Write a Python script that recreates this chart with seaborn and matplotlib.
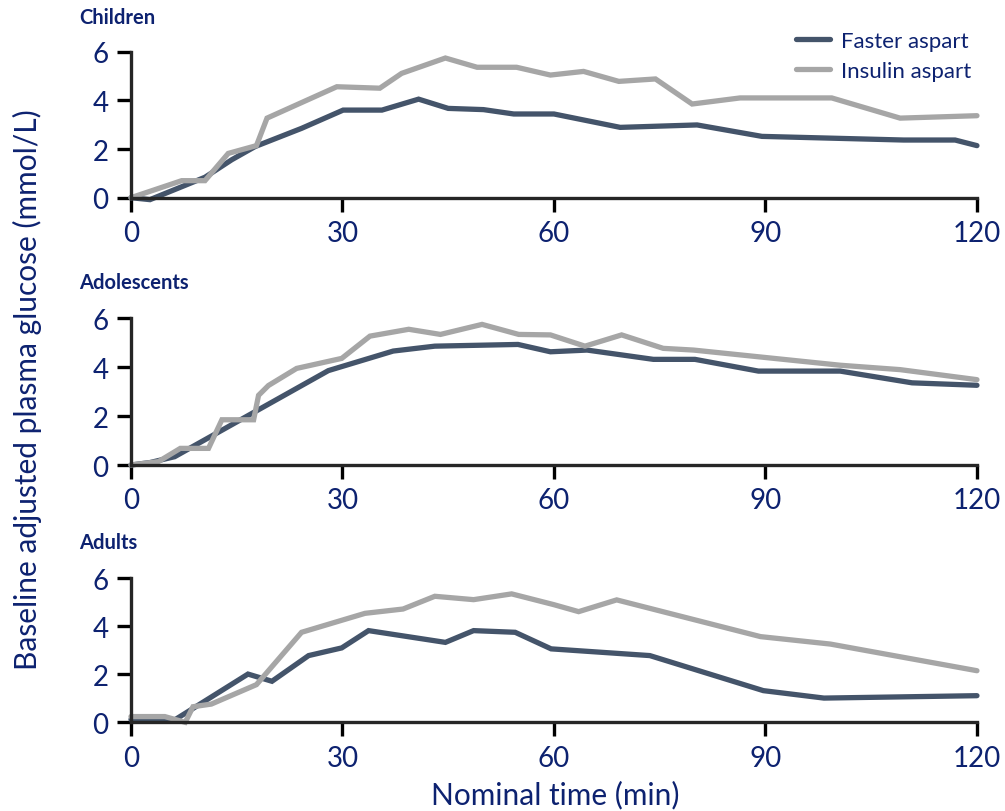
import pandas as pd
import seaborn as sns
import matplotlib.pyplot as plt

# Valores (min, mmol/L)
children_faster_t = [0, 2.7, 10.5, 14.3, 17.6, 24.2, 30.1, 35.6, 40.8, 45.0, 50.0, 54.3, 60.0, 69.4, 80.3, 89.5, 109.6, 116.9, 120]
children_faster_y = [0, -0.08, 0.84, 1.56, 2.1, 2.85, 3.6, 3.6, 4.05, 3.67, 3.62, 3.44, 3.44, 2.89, 2.99, 2.52, 2.37, 2.37, 2.14]
children_insulin_t = [0, 7.2, 10.5, 13.8, 17.8, 19.3, 29.2, 35.3, 38.4, 44.6, 49.1, 54.7, 59.5, 64.2, 69.2, 74.4, 79.6, 86.4, 99.4, 109.1, 120]
children_insulin_y = [0, 0.7, 0.7, 1.82, 2.14, 3.27, 4.56, 4.5, 5.11, 5.74, 5.36, 5.36, 5.04, 5.19, 4.78, 4.88, 3.85, 4.1, 4.1, 3.27, 3.37]

adolescents_faster_t = [0, 2.7, 6.2, 28.0, 37.2, 43.1, 54.9, 59.5, 64.7, 74.1, 80.0, 89.0, 100.6, 110.8, 120]
adolescents_faster_y = [0, 0.1, 0.34, 3.86, 4.66, 4.86, 4.93, 4.63, 4.7, 4.32, 4.32, 3.84, 3.84, 3.36, 3.26]
adolescents_insulin_t = [0, 3.9, 7.0, 11.0, 12.9, 17.4, 18.1, 19.5, 23.5, 29.9, 33.9, 39.4, 43.9, 49.8, 55.0, 59.5, 64.4, 69.6, 75.5, 79.8, 100.6, 109.1, 120]
adolescents_insulin_y = [0, 0.14, 0.68, 0.68, 1.85, 1.85, 2.85, 3.25, 3.95, 4.36, 5.27, 5.55, 5.34, 5.75, 5.34, 5.32, 4.86, 5.32, 4.77, 4.7, 4.08, 3.9, 3.49]

adults_faster_t = [0, 6.2, 16.6, 20.0, 25.2, 29.9, 33.7, 44.6, 48.6, 54.5, 59.6, 73.6, 89.7, 98.3, 120]
adults_faster_y = [0.12, 0.1, 2.01, 1.71, 2.78, 3.1, 3.82, 3.33, 3.82, 3.75, 3.06, 2.78, 1.32, 1.01, 1.11]
adults_insulin_t = [0, 4.8, 7.7, 8.8, 11.4, 17.8, 24.2, 33.2, 38.6, 43.1, 48.6, 54.0, 60.0, 63.5, 68.9, 89.3, 99.2, 120]
adults_insulin_y = [0.24, 0.24, 0.0, 0.65, 0.76, 1.57, 3.75, 4.54, 4.72, 5.25, 5.11, 5.35, 4.9, 4.61, 5.10, 3.57, 3.26, 2.15]

grupos = ['Children', 'Adolescents', 'Adults']
tratamientos = ['Faster aspart', 'Insulin aspart']
x_ticks = [0, 30, 60, 90, 120]
y_ticks = [0, 2, 4, 6]

series = {
    'Children': [(children_faster_t, children_faster_y), (children_insulin_t, children_insulin_y)],
    'Adolescents': [(adolescents_faster_t, adolescents_faster_y), (adolescents_insulin_t, adolescents_insulin_y)],
    'Adults': [(adults_faster_t, adults_faster_y), (adults_insulin_t, adults_insulin_y)],
}

filas = []
for g in grupos:
    for trat, (t, y) in zip(tratamientos, series[g]):
        for ti, yi in zip(t, y):
            filas.append({'grupo': g, 'tratamiento': trat, 'tiempo': ti, 'glucosa': yi})
df = pd.DataFrame(filas)

navy = '#0d2270'
paleta = {'Faster aspart': '#44546a', 'Insulin aspart': '#a6a6a6'}

sns.set_style('ticks')
plt.rcParams['font.family'] = ['Lato', 'DejaVu Sans']

fig = plt.figure(figsize=(10.05, 8.12), dpi=100)

# posiciones [izq, abajo, ancho, alto] en fracción de figura
posiciones = {
    'Children': [0.1303, 0.7553, 0.8418, 0.1798],
    'Adolescents': [0.1303, 0.4261, 0.8418, 0.1807],
    'Adults': [0.1303, 0.1092, 0.8418, 0.1774],
}
titulos_y = {'Children': 0.978, 'Adolescents': 0.651, 'Adults': 0.331}

for g in grupos:
    ax = fig.add_axes(posiciones[g])
    sns.lineplot(
        data=df[df['grupo'] == g],
        x='tiempo', y='glucosa',
        hue='tratamiento', hue_order=tratamientos,
        palette=paleta, estimator=None, sort=False,
        linewidth=3.8, legend=(g == 'Children'),
        ax=ax,
    )
    for ln in ax.lines:
        ln.set_clip_on(False)
        ln.set_solid_joinstyle('miter')
    ax.set_xlim(0, 120)
    ax.set_ylim(0, 6)
    ax.set_xticks(x_ticks)
    ax.set_yticks(y_ticks)
    ax.set_xlabel('')
    ax.set_ylabel('')
    sns.despine(ax=ax)
    for s in ['left', 'bottom']:
        ax.spines[s].set_linewidth(2.4)
    ax.tick_params(axis='both', length=10, width=2.4, color='black',
                   labelcolor=navy, labelsize=20, pad=6)
    fig.text(0.079, titulos_y[g], g, fontsize=14.5, fontweight='bold', color=navy,
             ha='left', va='center')
    if g == 'Children':
        sns.move_legend(ax, 'upper right', bbox_to_anchor=(0.975, 0.972),
                        bbox_transform=fig.transFigure, title=None, frameon=False,
                        fontsize=16, handlelength=1.5, handletextpad=0.5,
                        labelspacing=0.45, borderaxespad=0, labelcolor=navy)

fig.text(0.027, 0.52, 'Baseline adjusted plasma glucose (mmol/L)', rotation=90,
         fontsize=21.5, color=navy, ha='center', va='center')
fig.text(0.552, 0.021, 'Nominal time (min)', fontsize=21.5, color=navy,
         ha='center', va='center')

plt.savefig('out.png', dpi=100)
